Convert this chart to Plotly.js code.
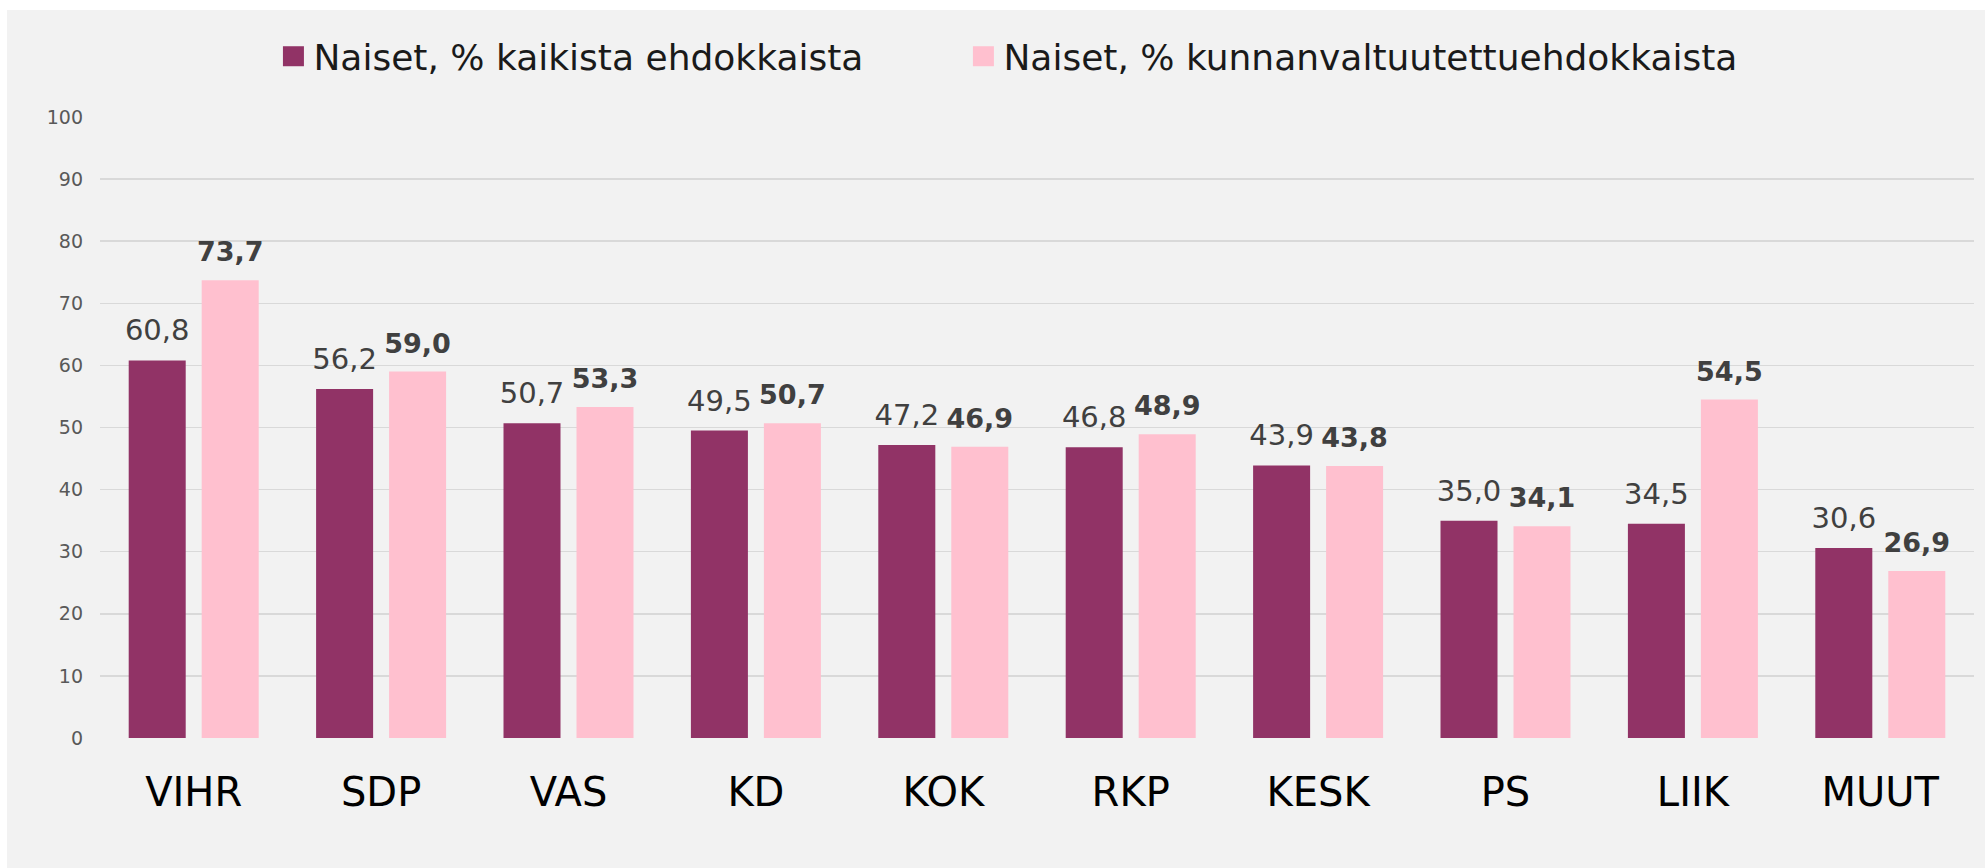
<!DOCTYPE html>
<html>
<head>
<meta charset="utf-8">
<script src="https://cdn.plot.ly/plotly-3.0.1.min.js"></script>
<style>
  html, body { margin: 0; padding: 0; background: #ffffff; width: 1985px; height: 868px; overflow: hidden; }
  #chart { position: absolute; left: 7px; top: 10px; width: 1978px; height: 858px; }
</style>
</head>
<body>
<div id="chart"></div>
<script>
const categories = ["VIHR", "SDP", "VAS", "KD", "KOK", "RKP", "KESK", "PS", "LIIK", "MUUT"];
const allCandidates = [60.8, 56.2, 50.7, 49.5, 47.2, 46.8, 43.9, 35.0, 34.5, 30.6];
const councillorCandidates = [73.7, 59.0, 53.3, 50.7, 46.9, 48.9, 43.8, 34.1, 54.5, 26.9];
const seriesNames = ["Naiset, % kaikista ehdokkaista", "Naiset, % kunnanvaltuutettuehdokkaista"];
const yTicks = [0, 10, 20, 30, 40, 50, 60, 70, 80, 90, 100];

const fmt = v => v.toFixed(1).replace(".", ",");

const traces = [
  {
    type: "bar", name: seriesNames[0], x: categories, y: allCandidates,
    marker: { color: "#913366" },
    text: allCandidates.map(fmt), textposition: "outside", cliponaxis: false,
    constraintext: "none",
    textfont: { family: "DejaVu Sans", size: 29, color: "#404040" },
    hoverinfo: "x+y"
  },
  {
    type: "bar", name: seriesNames[1], x: categories, y: councillorCandidates,
    marker: { color: "#FFC0CF" },
    text: councillorCandidates.map(fmt), textposition: "outside", cliponaxis: false,
    constraintext: "none",
    textfont: { family: "DejaVu Sans", size: 27, color: "#404040", weight: "bold" },
    hoverinfo: "x+y"
  }
];

const layout = {
  width: 1978, height: 858,
  paper_bgcolor: "#F2F2F2", plot_bgcolor: "#F2F2F2",
  margin: { l: 93, r: 11, t: 107, b: 130 },
  barmode: "group", bargap: 0.221, bargroupgap: 0.219,
  showlegend: true,
  legend: {
    orientation: "h", xref: "container", yref: "container",
    x: 0.1347, xanchor: "left", y: 0.946, yanchor: "middle",
    entrywidth: 645,
    font: { family: "DejaVu Sans", size: 36, color: "#1a1a1a" },
    bgcolor: "rgba(0,0,0,0)"
  },
  xaxis: {
    type: "category", showgrid: false, zeroline: false, showline: false,
    tickfont: { family: "DejaVu Sans", size: 40, color: "#000000" },
    ticks: "", ticklabelstandoff: 27
  },
  yaxis: {
    range: [0, 100], tickvals: yTicks, ticktext: yTicks.map(String),
    showgrid: true, gridcolor: "#D9D9D9", gridwidth: 1.5,
    zeroline: false, showline: false, ticks: "",
    tickfont: { family: "DejaVu Sans", size: 19, color: "#595959" },
    ticklabelstandoff: 16
  }
};

Plotly.newPlot("chart", traces, layout, { displayModeBar: false, staticPlot: true }).then(() => {
  // larger legend swatches, as in the original
  document.querySelectorAll(".legendpoints path").forEach(p => {
    p.setAttribute("d", "M10.5,10H-10.5V-10H10.5Z");
  });
  // let the last legend entry show in full
  document.querySelectorAll(".legend .scrollbox").forEach(g => g.removeAttribute("clip-path"));
  // a little more room between bar tops and their value labels
  document.querySelectorAll(".bars text.bartext").forEach(t => {
    const tr = t.getAttribute("transform") || "";
    t.setAttribute("transform", "translate(0,-10) " + tr);
  });
});
</script>
</body>
</html>
